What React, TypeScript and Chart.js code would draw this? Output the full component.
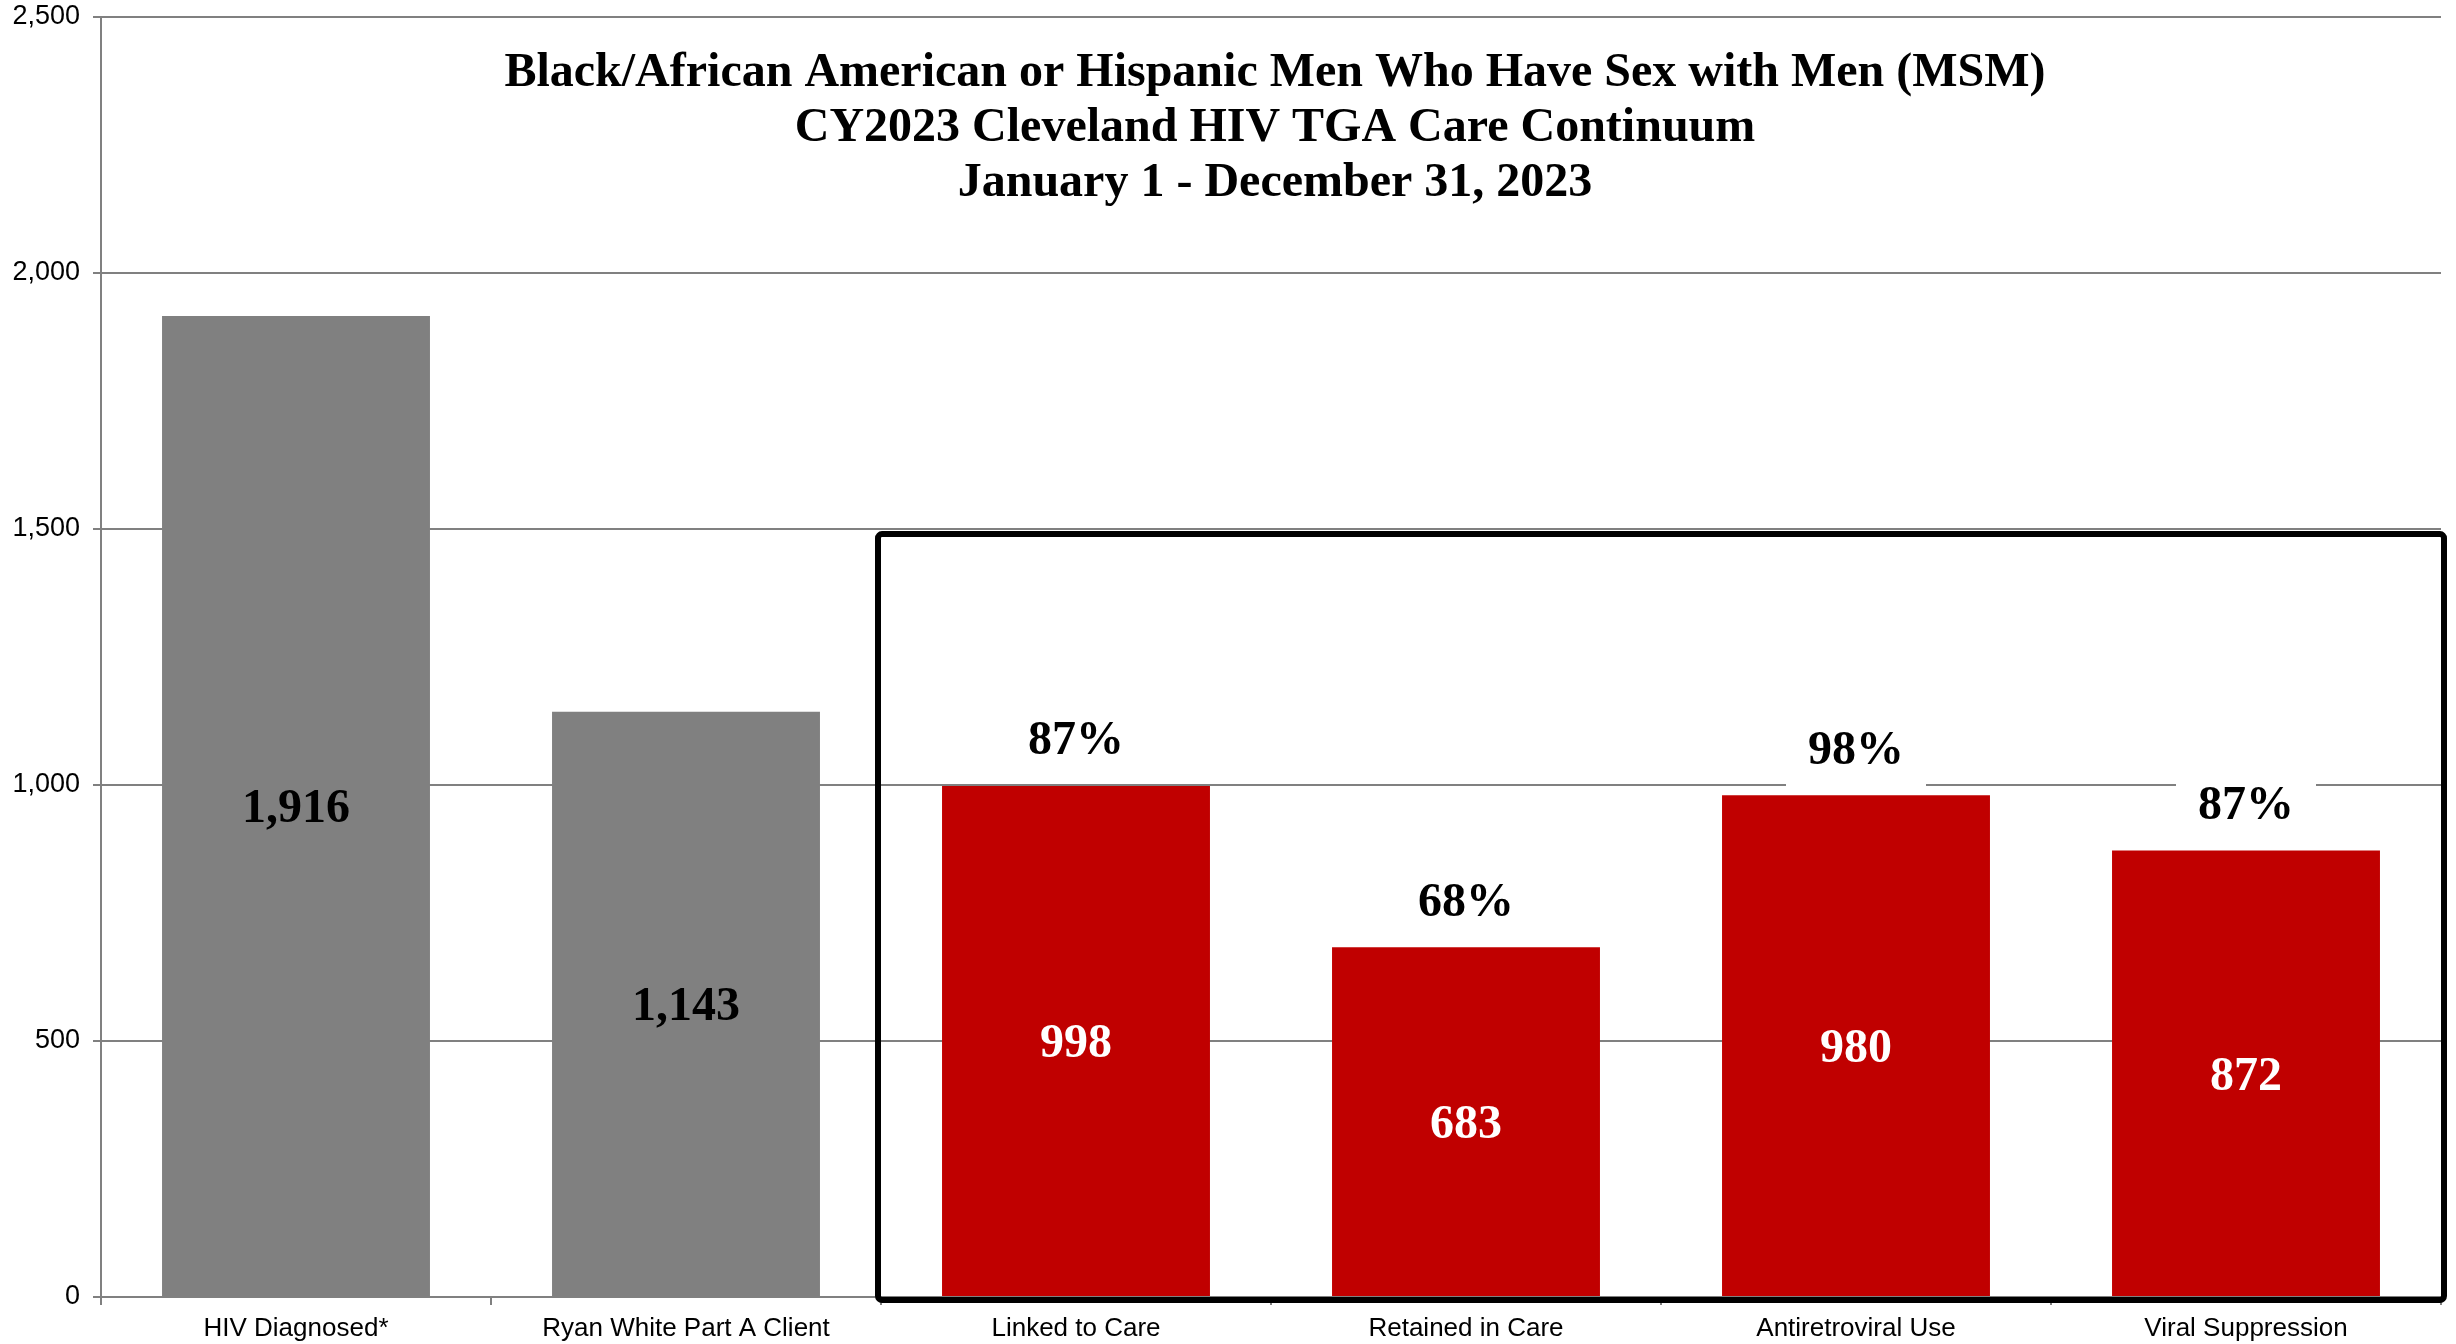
import React, { useEffect, useRef } from "react";
import { Chart, registerables } from "chart.js";

Chart.register(...registerables);

const categories = [
  "HIV Diagnosed*",
  "Ryan White Part A Client",
  "Linked to Care",
  "Retained in Care",
  "Antiretroviral Use",
  "Viral Suppression",
];
const counts = [1916, 1143, 998, 683, 980, 872];
const percentLabels = [null, null, "87%", "68%", "98%", "87%"];
const barColors = ["#808080", "#808080", "#C00000", "#C00000", "#C00000", "#C00000"];
const valueLabelColors = ["#000000", "#000000", "#FFFFFF", "#FFFFFF", "#FFFFFF", "#FFFFFF"];
const titleLines = [
  "Black/African American or Hispanic Men Who Have Sex with Men (MSM)",
  "CY2023 Cleveland HIV TGA Care Continuum",
  "January 1 - December 31, 2023",
];
const yMin = 0;
const yMax = 2500;
const yStep = 500;
const boxTopValue = 1490;

const SERIF = '"Liberation Serif", "Times New Roman", serif';
const SANS = '"Liberation Sans", Arial, sans-serif';

const overlayPlugin = {
  id: "overlay",
  afterDatasetsDraw(chart: any) {
    const ctx = chart.ctx;
    const meta = chart.getDatasetMeta(0);
    ctx.save();
    ctx.font = `bold 48px ${SERIF}`;
    ctx.textAlign = "center";
    ctx.textBaseline = "middle";
    meta.data.forEach((bar: any, i: number) => {
      const { x, y, base } = bar.getProps(["x", "y", "base"], true);
      ctx.fillStyle = valueLabelColors[i];
      ctx.fillText(counts[i].toLocaleString("en-US"), x, (y + base) / 2 + 4);
      const p = percentLabels[i];
      if (p) {
        const py = y - 44;
        const w = ctx.measureText(p).width;
        ctx.fillStyle = "#FFFFFF";
        ctx.fillRect(x - w / 2 - 22, py - 38, w + 44, 76);
        ctx.fillStyle = "#000000";
        ctx.fillText(p, x, py);
      }
    });
    ctx.restore();
  },
  afterDraw(chart: any) {
    const ctx = chart.ctx;
    const xs = chart.scales.x;
    const ys = chart.scales.y;
    const area = chart.chartArea;
    ctx.save();
    // title
    ctx.font = `bold 48px ${SERIF}`;
    ctx.fillStyle = "#000000";
    ctx.textAlign = "center";
    ctx.textBaseline = "middle";
    const cx = (area.left + area.right) / 2 + 4;
    titleLines.forEach((t, i) => {
      ctx.fillText(t, cx, area.top + 57 + i * 55);
    });
    // box
    const left = (xs.getPixelForValue(1) + xs.getPixelForValue(2)) / 2 - 3;
    const right = area.right + 3;
    const top = ys.getPixelForValue(boxTopValue);
    const bottom = ys.getPixelForValue(0) + 3;
    ctx.lineWidth = 6;
    ctx.strokeStyle = "#000000";
    ctx.beginPath();
    if ((ctx as any).roundRect) {
      (ctx as any).roundRect(left, top, right - left, bottom - top, 4);
    } else {
      ctx.rect(left, top, right - left, bottom - top);
    }
    ctx.stroke();
    ctx.restore();
  },
};

export default function App() {
  const ref = useRef<HTMLCanvasElement | null>(null);
  useEffect(() => {
    if (!ref.current) return;
    const chart = new Chart(ref.current, {
      type: "bar",
      data: {
        labels: categories,
        datasets: [
          {
            data: counts,
            backgroundColor: barColors,
            borderWidth: 0,
            barPercentage: 0.687,
            categoryPercentage: 1,
          },
        ],
      },
      options: {
        animation: false,
        responsive: false,
        devicePixelRatio: 1,
        layout: { padding: { top: 17, right: 15, left: 0, bottom: 0 } },
        plugins: {
          legend: { display: false },
          tooltip: { enabled: false },
          title: { display: false },
        },
        scales: {
          x: {
            offset: true,
            grid: {
              display: true,
              offset: true,
              drawOnChartArea: false,
              drawTicks: true,
              tickLength: 8,
              color: "#808080",
              lineWidth: 2,
            },
            border: { display: true, color: "#808080", width: 2 },
            ticks: {
              color: "#000000",
              font: { family: SANS, size: 26 },
              padding: 8,
              maxRotation: 0,
              autoSkip: false,
            },
            afterFit: (scale: any) => {
              scale.height = 47;
              scale.paddingLeft = 0;
              scale.paddingRight = 0;
            },
          },
          y: {
            min: yMin,
            max: yMax,
            ticks: {
              stepSize: yStep,
              color: "#000000",
              font: { family: SANS, size: 27 },
              padding: 13,
              callback: (v: any) => Number(v).toLocaleString("en-US"),
            },
            grid: {
              color: "#808080",
              lineWidth: 2,
              tickLength: 8,
              drawTicks: true,
            },
            border: { display: true, color: "#808080", width: 2 },
            afterFit: (scale: any) => {
              scale.width = 101;
              scale.paddingTop = 0;
              scale.paddingBottom = 0;
            },
          },
        },
      },
      plugins: [overlayPlugin],
    });
    return () => chart.destroy();
  }, []);
  return (
    <div style={{ position: "absolute", left: 0, top: 0, width: 2456, height: 1344, background: "#fff" }}>
      <canvas ref={ref} width={2456} height={1344} style={{ display: "block" }} />
    </div>
  );
}
